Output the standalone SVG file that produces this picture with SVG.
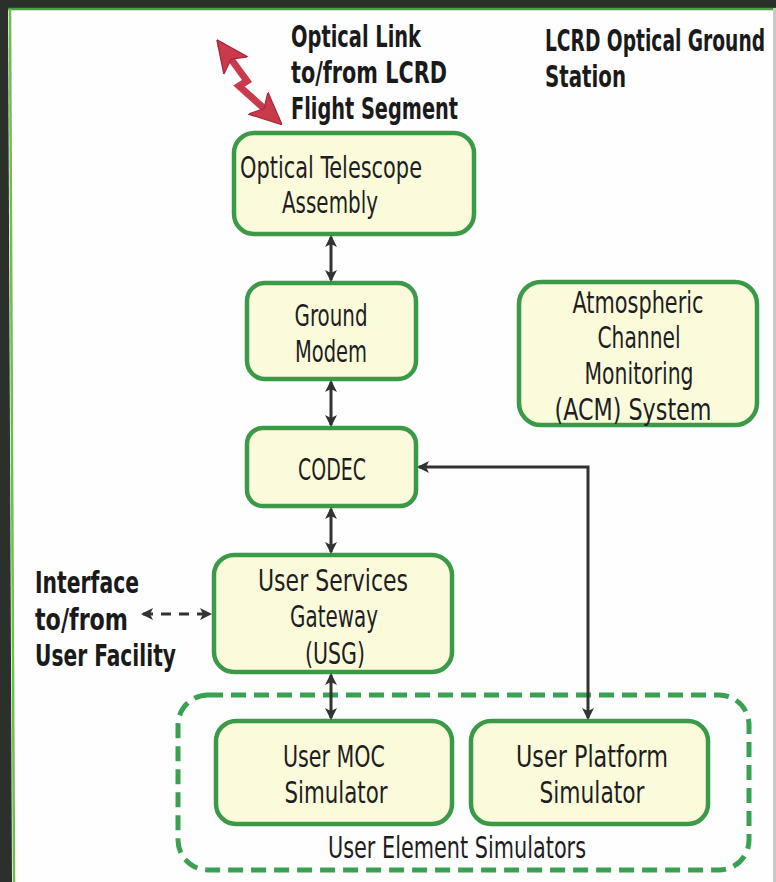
<svg xmlns="http://www.w3.org/2000/svg" width="776" height="882" viewBox="0 0 776 882">
  <style>
    .box { fill: #fbfbdc; stroke: #3b9a48; stroke-width: 4.5; }
    .t { font-family: "DejaVu Sans Condensed", "DejaVu Sans", sans-serif; font-size: 31px; fill: #1e1e1e; text-anchor: middle; }
    .b { font-family: "DejaVu Sans Condensed", "DejaVu Sans", sans-serif; font-size: 30px; font-weight: bold; fill: #1a1a1a; }
    .conn { fill: none; stroke: #333333; stroke-width: 3; }
  </style>
  <defs>
    <marker id="ah" viewBox="0 0 12 12" refX="10" refY="6" markerWidth="12" markerHeight="12" markerUnits="userSpaceOnUse" orient="auto-start-reverse">
      <path d="M0,0 L12,6 L0,12 L3,6 Z" fill="#333333"/>
    </marker>
    <marker id="rh" viewBox="0 0 24 24" refX="20" refY="12" markerWidth="32" markerHeight="32" markerUnits="userSpaceOnUse" orient="auto-start-reverse">
      <path d="M0,1 L24,12 L0,23 L6,12 Z" fill="#c93a4d" stroke="#a82a3c" stroke-width="1"/>
    </marker>
  </defs>

  <!-- background and frame -->
  <rect x="0" y="0" width="776" height="882" fill="#fefefe"/>
  <rect x="0" y="0" width="776" height="8" fill="#2b302b"/>
  <polygon points="0,0 8,0 12,882 0,882" fill="#2b302b"/>
  <line x1="8" y1="9" x2="776" y2="9" stroke="#4e9a45" stroke-width="2.5"/>
  <line x1="10" y1="9" x2="14" y2="882" stroke="#6cbf4a" stroke-width="2.5"/>
  <rect x="773" y="8" width="3" height="874" fill="#c9c9c9"/>

  <!-- titles / free labels -->
  <g id="label-optical-link">
    <text class="b" x="291" y="47" textLength="130" lengthAdjust="spacingAndGlyphs">Optical Link</text>
    <text class="b" x="291" y="83" textLength="156" lengthAdjust="spacingAndGlyphs">to/from LCRD</text>
    <text class="b" x="291" y="119" textLength="167" lengthAdjust="spacingAndGlyphs">Flight Segment</text>
  </g>
  <g id="label-station">
    <text class="b" x="545" y="51" textLength="220" lengthAdjust="spacingAndGlyphs">LCRD Optical Ground</text>
    <text class="b" x="545" y="87" textLength="81" lengthAdjust="spacingAndGlyphs">Station</text>
  </g>
  <g id="label-interface">
    <text class="b" x="35" y="593" textLength="104" lengthAdjust="spacingAndGlyphs">Interface</text>
    <text class="b" x="35" y="630" textLength="93" lengthAdjust="spacingAndGlyphs">to/from</text>
    <text class="b" x="35" y="666" textLength="141" lengthAdjust="spacingAndGlyphs">User Facility</text>
  </g>

  <!-- group -->
  <g id="user-element-simulators">
    <rect x="178" y="695" width="571" height="175" rx="30" fill="none" stroke="#3aa052" stroke-width="5" stroke-dasharray="15 8"/>
    <text class="t" x="457" y="858" textLength="258" lengthAdjust="spacingAndGlyphs">User Element Simulators</text>
  </g>

  <!-- nodes -->
  <g id="ota">
    <rect class="box" x="234" y="133" width="240" height="101" rx="20"/>
    <text class="t" x="331" y="178" textLength="182" lengthAdjust="spacingAndGlyphs">Optical Telescope</text>
    <text class="t" x="330" y="213" textLength="96" lengthAdjust="spacingAndGlyphs">Assembly</text>
  </g>
  <g id="ground-modem">
    <rect class="box" x="247" y="283" width="169" height="96" rx="18"/>
    <text class="t" x="331" y="326" textLength="73" lengthAdjust="spacingAndGlyphs">Ground</text>
    <text class="t" x="331" y="362" textLength="72" lengthAdjust="spacingAndGlyphs">Modem</text>
  </g>
  <g id="codec">
    <rect class="box" x="247" y="428" width="169" height="78" rx="16"/>
    <text class="t" x="332" y="480" textLength="68" lengthAdjust="spacingAndGlyphs">CODEC</text>
  </g>
  <g id="usg">
    <rect class="box" x="214" y="555" width="238" height="117" rx="20"/>
    <text class="t" x="333" y="591" textLength="150" lengthAdjust="spacingAndGlyphs">User Services</text>
    <text class="t" x="334" y="627" textLength="88" lengthAdjust="spacingAndGlyphs">Gateway</text>
    <text class="t" x="335" y="664" textLength="60" lengthAdjust="spacingAndGlyphs">(USG)</text>
  </g>
  <g id="acm">
    <rect class="box" x="519" y="282" width="238" height="143" rx="22"/>
    <text class="t" x="638" y="313" textLength="131" lengthAdjust="spacingAndGlyphs">Atmospheric</text>
    <text class="t" x="639" y="348" textLength="83" lengthAdjust="spacingAndGlyphs">Channel</text>
    <text class="t" x="639" y="384" textLength="109" lengthAdjust="spacingAndGlyphs">Monitoring</text>
    <text class="t" x="633" y="420" textLength="157" lengthAdjust="spacingAndGlyphs">(ACM) System</text>
  </g>
  <g id="user-moc">
    <rect class="box" x="216" y="721" width="236" height="103" rx="20"/>
    <text class="t" x="334" y="767" textLength="102" lengthAdjust="spacingAndGlyphs">User MOC</text>
    <text class="t" x="336" y="803" textLength="103" lengthAdjust="spacingAndGlyphs">Simulator</text>
  </g>
  <g id="user-platform">
    <rect class="box" x="471" y="721" width="237" height="103" rx="20"/>
    <text class="t" x="592" y="767" textLength="152" lengthAdjust="spacingAndGlyphs">User Platform</text>
    <text class="t" x="592" y="803" textLength="105" lengthAdjust="spacingAndGlyphs">Simulator</text>
  </g>

  <!-- connectors -->
  <g id="connectors">
    <line class="conn" x1="331" y1="237" x2="331" y2="280" marker-start="url(#ah)" marker-end="url(#ah)"/>
    <line class="conn" x1="331" y1="382" x2="331" y2="425" marker-start="url(#ah)" marker-end="url(#ah)"/>
    <line class="conn" x1="331" y1="509" x2="331" y2="552" marker-start="url(#ah)" marker-end="url(#ah)"/>
    <line class="conn" x1="331" y1="675" x2="331" y2="718" marker-start="url(#ah)" marker-end="url(#ah)"/>
    <path class="conn" d="M419,467 H588 V718" marker-start="url(#ah)" marker-end="url(#ah)"/>
    <line class="conn" x1="143" y1="614" x2="210" y2="614" stroke-dasharray="10 8" marker-start="url(#ah)" marker-end="url(#ah)"/>
    <path d="M220,44 L247,81 L239,86 L278,121" fill="none" stroke="#c93a4d" stroke-width="7" stroke-linejoin="miter" marker-start="url(#rh)" marker-end="url(#rh)"/>
  </g>
</svg>
